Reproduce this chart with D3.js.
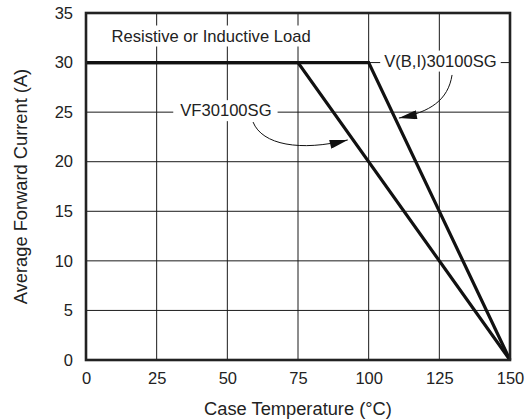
<!DOCTYPE html>
<html>
<head>
<meta charset="utf-8">
<script src="https://cdn.jsdelivr.net/npm/d3@7"></script>
<style>
  body { margin: 0; background: #fff; }
  svg { display: block; font-family: "Liberation Sans", Arial, Helvetica, sans-serif; }
</style>
</head>
<body>
<svg id="chart" width="525" height="419"></svg>
<script>
// ---- data ----
const xTicks = [0, 25, 50, 75, 100, 125, 150];
const yTicks = [0, 5, 10, 15, 20, 25, 30, 35];
const seriesNames = ["VF30100SG", "V(B,I)30100SG"];
const vfTemp = [0, 75, 150];
const vfCurrent = [30, 30, 0];
const vbiTemp = [0, 100, 150];
const vbiCurrent = [30, 30, 0];
const xTitle = "Case Temperature (°C)";
const yTitle = "Average Forward Current (A)";
const noteText = "Resistive or Inductive Load";
// annotation anchors in data units: [label x, label y], arrow start, controls, tip
const vfLabel = [49.5, 25.15];
const vfArrow = [[59.1, 24.0], [62.3, 21.7], [75.8, 21.0], [92.6, 22.2]];
const vbiLabel = [125.4, 30.15];
const vbiArrow = [[129.5, 28.75], [128.1, 26.2], [121.7, 25.0], [110.7, 24.4]];
const noteAt = [9.0, 32.68];

// ---- layout ----
const svg = d3.select("#chart");
const x = d3.scaleLinear().domain([0, 150]).range([86, 510]);
const y = d3.scaleLinear().domain([0, 35]).range([360, 13]);

const defs = svg.append("defs");
defs.append("marker")
  .attr("id", "ah").attr("viewBox", "0 0 20 10")
  .attr("refX", 20).attr("refY", 5)
  .attr("markerWidth", 20).attr("markerHeight", 9)
  .attr("markerUnits", "userSpaceOnUse")
  .attr("orient", "auto")
  .append("path").attr("d", "M0,0 L20,5 L0,10 Z").attr("fill", "#111");

// gridlines
const grid = svg.append("g").attr("stroke", "#1a1a1a").attr("stroke-width", 1);
grid.selectAll("line.v").data(xTicks).join("line")
  .attr("x1", d => x(d)).attr("x2", d => x(d))
  .attr("y1", y(35)).attr("y2", y(0));
grid.selectAll("line.h").data(yTicks).join("line")
  .attr("x1", x(0)).attr("x2", x(150))
  .attr("y1", d => y(d)).attr("y2", d => y(d));

// axes labels via d3 axes (no tick lines)
const xAxis = svg.append("g").attr("transform", `translate(0,${y(0)})`)
  .call(d3.axisBottom(x).tickValues(xTicks).tickSize(0).tickPadding(12));
const yAxis = svg.append("g").attr("transform", `translate(${x(0)},0)`)
  .call(d3.axisLeft(y).tickValues(yTicks).tickSize(0).tickPadding(13));
[xAxis, yAxis].forEach(a => {
  a.select(".domain").remove();
  a.selectAll("text").attr("font-size", 16.5).attr("fill", "#222")
    .attr("font-family", "'Liberation Sans', Arial, Helvetica, sans-serif");
});

// text label with white background
function boxLabel(txt, px, py, anchor, padL, padR) {
  const g = svg.append("g");
  const t = g.append("text").attr("x", px).attr("y", py)
    .attr("text-anchor", anchor).attr("dominant-baseline", "central")
    .attr("font-size", 16.6).attr("fill", "#222").text(txt);
  const b = t.node().getBBox();
  g.insert("rect", "text")
    .attr("x", b.x - padL).attr("y", b.y - 1).attr("width", b.width + padL + padR)
    .attr("height", b.height + 2).attr("fill", "#fff");
}
boxLabel(noteText, x(noteAt[0]), y(noteAt[1]), "start", 3, 3);
boxLabel(seriesNames[0], x(vfLabel[0]), y(vfLabel[1]), "middle", 7, 6);
boxLabel(seriesNames[1], x(vbiLabel[0]), y(vbiLabel[1]), "middle", 4, 4);

// data lines
const line = d3.line().x(d => x(d[0])).y(d => y(d[1]));
const series = [d3.zip(vfTemp, vfCurrent), d3.zip(vbiTemp, vbiCurrent)];
svg.append("g").selectAll("path").data(series).join("path")
  .attr("d", line).attr("fill", "none").attr("stroke", "#111")
  .attr("stroke-width", 3.2).attr("stroke-linejoin", "miter");

// arrows
function arrow(pts) {
  const p = pts.map(d => [x(d[0]), y(d[1])]);
  const path = d3.path();
  path.moveTo(p[0][0], p[0][1]);
  path.bezierCurveTo(p[1][0], p[1][1], p[2][0], p[2][1], p[3][0], p[3][1]);
  svg.append("path").attr("d", path.toString()).attr("fill", "none")
    .attr("stroke", "#111").attr("stroke-width", 1)
    .attr("marker-end", "url(#ah)");
}
arrow(vfArrow);
arrow(vbiArrow);

// frame
svg.append("rect").attr("x", x(0)).attr("y", y(35))
  .attr("width", x(150) - x(0)).attr("height", y(0) - y(35))
  .attr("fill", "none").attr("stroke", "#222").attr("stroke-width", 2.6);

// titles
svg.append("text").attr("x", (x(0) + x(150)) / 2).attr("y", 415)
  .attr("text-anchor", "middle").attr("font-size", 18.3).attr("fill", "#222").text(xTitle);
svg.append("text").attr("transform", `translate(20,${(y(0) + y(35)) / 2}) rotate(-90)`)
  .attr("text-anchor", "middle").attr("dominant-baseline", "central")
  .attr("font-size", 18.3).attr("fill", "#222").text(yTitle);
</script>
</body>
</html>
